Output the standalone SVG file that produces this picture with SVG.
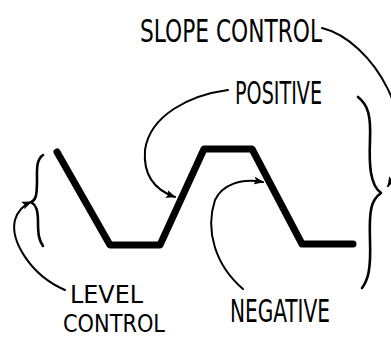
<svg xmlns="http://www.w3.org/2000/svg" width="391" height="338" viewBox="0 0 391 338">
<defs>
<marker id="ah" markerWidth="10" markerHeight="8" refX="9" refY="4" orient="auto" markerUnits="userSpaceOnUse">
<path d="M0,0 L10,4 L0,8 L2,4 Z" fill="#000"/>
</marker>
<style>
.lbl{font-family:"Liberation Sans Narrow","DejaVu Sans Condensed","Liberation Sans",sans-serif;font-size:32px;fill:#000}
.sm{font-size:25px}
.conn{fill:none;stroke:#000;stroke-width:2;stroke-linecap:round}
.brace{fill:none;stroke:#000;stroke-width:2.6;stroke-linecap:round;stroke-linejoin:round}
.wave{fill:none;stroke:#000;stroke-width:7;stroke-linecap:round;stroke-linejoin:round}
</style>
</defs>
<rect width="391" height="338" fill="#fff"/>
<g id="waveform">
<polyline class="wave" points="57,152 110,245 160,245 204,149 252,149 302,244 353,244"/>
</g>
<g id="level-brace">
<path class="brace" d="M43 155 C36 160,37 170,37 180 C37 195,36 200,31 202 C36 205,38 210,38 222 C38 235,39 240,43 246"/>
</g>
<g id="slope-brace">
<path class="brace" d="M358 97 C368 105,371 115,370 140 C369 165,370 185,381 193 C371 200,369 210,370 240 C371 270,368 280,362 288"/>
</g>
<g id="slope-control">
<text class="lbl" x="140" y="42" textLength="182" lengthAdjust="spacingAndGlyphs">SLOPE CONTROL</text>
</g>
<g id="positive">
<text class="lbl" x="235" y="104" textLength="87" lengthAdjust="spacingAndGlyphs">POSITIVE</text>
</g>
<g id="level-control">
<text class="lbl sm" x="70" y="303" textLength="73" lengthAdjust="spacingAndGlyphs">LEVEL</text>
<text class="lbl sm" x="63" y="332" textLength="102" lengthAdjust="spacingAndGlyphs">CONTROL</text>
</g>
<g id="negative">
<text class="lbl" x="230" y="322" textLength="100" lengthAdjust="spacingAndGlyphs">NEGATIVE</text>
</g>
<g id="connectors">
<path class="conn" marker-end="url(#ah)" d="M322 28 C372 40,425 125,388 186"/>
<path class="conn" marker-end="url(#ah)" d="M228 90 C190 95,150 115,145 150 C143 175,155 190,175 197"/>
<path class="conn" marker-end="url(#ah)" d="M243 289 C215 265,205 230,215 200 C222 185,240 178,263 182"/>
<path class="conn" marker-end="url(#ah)" d="M65 290 C30 275,10 240,15 220 C18 210,24 205,31 202"/>
</g>
</svg>
